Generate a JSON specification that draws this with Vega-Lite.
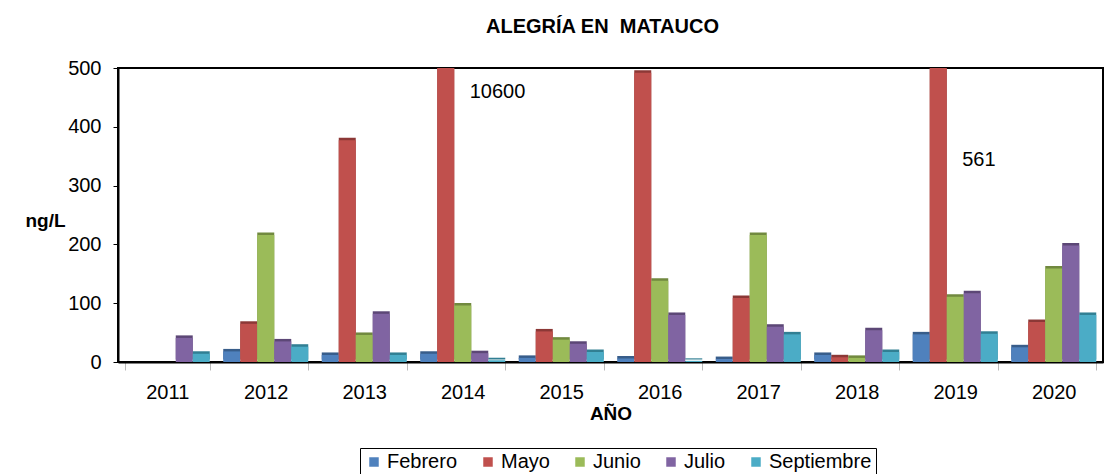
{
  "$schema": "https://vega.github.io/schema/vega-lite/v6.json",
  "width": 985,
  "height": 294,
  "autosize": {"type": "none"},
  "padding": {"left": 118, "top": 68, "right": 4, "bottom": 112},
  "background": "white",
  "config": {
    "font": "Liberation Sans",
    "view": {"stroke": "black", "strokeWidth": 2}
  },
  "title": {
    "text": "ALEGRÍA EN \u00a0MATAUCO",
    "font": "Liberation Sans",
    "fontSize": 20,
    "fontWeight": "bold",
    "color": "black",
    "anchor": "middle",
    "frame": "group",
    "dx": -8,
    "offset": 21
  },
  "data": {
    "values": [
      {"año": "2011", "mes": "Julio", "ng": 41},
      {"año": "2011", "mes": "Septiembre", "ng": 14},
      {"año": "2012", "mes": "Febrero", "ng": 18},
      {"año": "2012", "mes": "Mayo", "ng": 65},
      {"año": "2012", "mes": "Junio", "ng": 216},
      {"año": "2012", "mes": "Julio", "ng": 35},
      {"año": "2012", "mes": "Septiembre", "ng": 26},
      {"año": "2013", "mes": "Febrero", "ng": 12},
      {"año": "2013", "mes": "Mayo", "ng": 377},
      {"año": "2013", "mes": "Junio", "ng": 46},
      {"año": "2013", "mes": "Julio", "ng": 82},
      {"año": "2013", "mes": "Septiembre", "ng": 12},
      {"año": "2014", "mes": "Febrero", "ng": 14},
      {"año": "2014", "mes": "Mayo", "ng": 10600},
      {"año": "2014", "mes": "Junio", "ng": 96},
      {"año": "2014", "mes": "Julio", "ng": 15},
      {"año": "2014", "mes": "Septiembre", "ng": 3},
      {"año": "2015", "mes": "Febrero", "ng": 7},
      {"año": "2015", "mes": "Mayo", "ng": 52},
      {"año": "2015", "mes": "Junio", "ng": 38},
      {"año": "2015", "mes": "Julio", "ng": 31},
      {"año": "2015", "mes": "Septiembre", "ng": 17},
      {"año": "2016", "mes": "Febrero", "ng": 6},
      {"año": "2016", "mes": "Mayo", "ng": 492},
      {"año": "2016", "mes": "Junio", "ng": 138},
      {"año": "2016", "mes": "Julio", "ng": 80},
      {"año": "2016", "mes": "Septiembre", "ng": 2},
      {"año": "2017", "mes": "Febrero", "ng": 5},
      {"año": "2017", "mes": "Mayo", "ng": 109},
      {"año": "2017", "mes": "Junio", "ng": 216},
      {"año": "2017", "mes": "Julio", "ng": 60},
      {"año": "2017", "mes": "Septiembre", "ng": 47},
      {"año": "2018", "mes": "Febrero", "ng": 12},
      {"año": "2018", "mes": "Mayo", "ng": 8},
      {"año": "2018", "mes": "Junio", "ng": 7},
      {"año": "2018", "mes": "Julio", "ng": 54},
      {"año": "2018", "mes": "Septiembre", "ng": 17},
      {"año": "2019", "mes": "Febrero", "ng": 47},
      {"año": "2019", "mes": "Mayo", "ng": 561},
      {"año": "2019", "mes": "Junio", "ng": 111},
      {"año": "2019", "mes": "Julio", "ng": 117},
      {"año": "2019", "mes": "Septiembre", "ng": 48},
      {"año": "2020", "mes": "Febrero", "ng": 25},
      {"año": "2020", "mes": "Mayo", "ng": 68},
      {"año": "2020", "mes": "Junio", "ng": 159},
      {"año": "2020", "mes": "Julio", "ng": 198},
      {"año": "2020", "mes": "Septiembre", "ng": 80}
    ]
  },
  "encoding": {
    "x": {
      "field": "año",
      "type": "nominal",
      "scale": {"paddingInner": 0.137, "paddingOuter": 0.0685},
      "axis": {
        "title": "AÑO",
        "titleFont": "Liberation Sans",
        "titleFontSize": 19,
        "titleFontWeight": "bold",
        "titleColor": "black",
        "titlePadding": 2,
        "labelAngle": 0,
        "labelFont": "Liberation Sans",
        "labelFontSize": 20,
        "labelColor": "black",
        "labelPadding": 12,
        "tickBand": "extent",
        "tickColor": "#bbbbbb",
        "tickSize": 8,
        "domainColor": "black",
        "domainWidth": 2
      }
    },
    "xOffset": {
      "field": "mes",
      "type": "nominal",
      "sort": ["Febrero", "Mayo", "Junio", "Julio", "Septiembre"],
      "scale": {"paddingInner": 0, "paddingOuter": 0}
    }
  },
  "layer": [
    {
      "mark": {"type": "bar", "clip": true, "xOffset": 8.5, "yOffset": -2.5},
      "encoding": {
        "y": {"field": "ng", "type": "quantitative", "scale": {"domain": [0, 500]}},
        "color": {
          "field": "mes",
          "type": "nominal",
          "sort": ["Febrero", "Mayo", "Junio", "Julio", "Septiembre"],
          "scale": {
            "domain": ["Febrero", "Mayo", "Junio", "Julio", "Septiembre"],
            "range": ["#385D8A", "#8C3836", "#71893F", "#5C4776", "#317F93"]
          },
          "legend": null
        }
      }
    },
    {
      "mark": {"type": "bar", "clip": true, "xOffset": 4},
      "encoding": {
        "y": {
          "field": "ng",
          "type": "quantitative",
          "scale": {"domain": [0, 500]},
          "axis": {
            "values": [0, 100, 200, 300, 400, 500],
            "grid": false,
            "title": "ng/L",
            "titleFont": "Liberation Sans",
            "titleFontSize": 19,
            "titleFontWeight": "bold",
            "titleColor": "black",
            "titleAngle": 0,
            "titleX": -73,
            "titleY": 152,
            "titleAlign": "center",
            "titleBaseline": "middle",
            "labelFont": "Liberation Sans",
            "labelFontSize": 20,
            "labelColor": "black",
            "labelPadding": 12,
            "tickColor": "black",
            "tickSize": 5,
            "domainColor": "black",
            "domainWidth": 2
          }
        },
        "color": {
          "field": "mes",
          "type": "nominal",
          "sort": ["Febrero", "Mayo", "Junio", "Julio", "Septiembre"],
          "scale": {
            "domain": ["Febrero", "Mayo", "Junio", "Julio", "Septiembre"],
            "range": ["#4F81BD", "#C0504D", "#9BBB59", "#8064A2", "#4BACC6"]
          },
          "legend": {
            "title": null,
            "orient": "none",
            "legendX": 242,
            "legendY": 380,
            "direction": "horizontal",
            "columns": 5,
            "columnPadding": 20,
            "strokeColor": "black",
            "padding": 4,
            "symbolType": "square",
            "symbolSize": 90,
            "symbolStrokeWidth": 0,
            "labelFont": "Liberation Sans",
            "labelFontSize": 20,
            "labelColor": "black",
            "labelOffset": 3
          }
        }
      }
    },
    {
      "transform": [{"filter": "datum['año'] == '2014' && datum.mes == 'Mayo'"}],
      "mark": {"type": "text", "align": "left", "baseline": "middle", "dx": 24, "fontSize": 20, "font": "Liberation Sans", "color": "black"},
      "encoding": {
        "y": {"datum": 459},
        "text": {"field": "ng", "type": "quantitative", "format": "d"}
      }
    },
    {
      "transform": [{"filter": "datum['año'] == '2019' && datum.mes == 'Mayo'"}],
      "mark": {"type": "text", "align": "left", "baseline": "middle", "dx": 24, "fontSize": 20, "font": "Liberation Sans", "color": "black"},
      "encoding": {
        "y": {"datum": 344},
        "text": {"field": "ng", "type": "quantitative", "format": "d"}
      }
    }
  ],
  "resolve": {"scale": {"color": "independent"}}
}
